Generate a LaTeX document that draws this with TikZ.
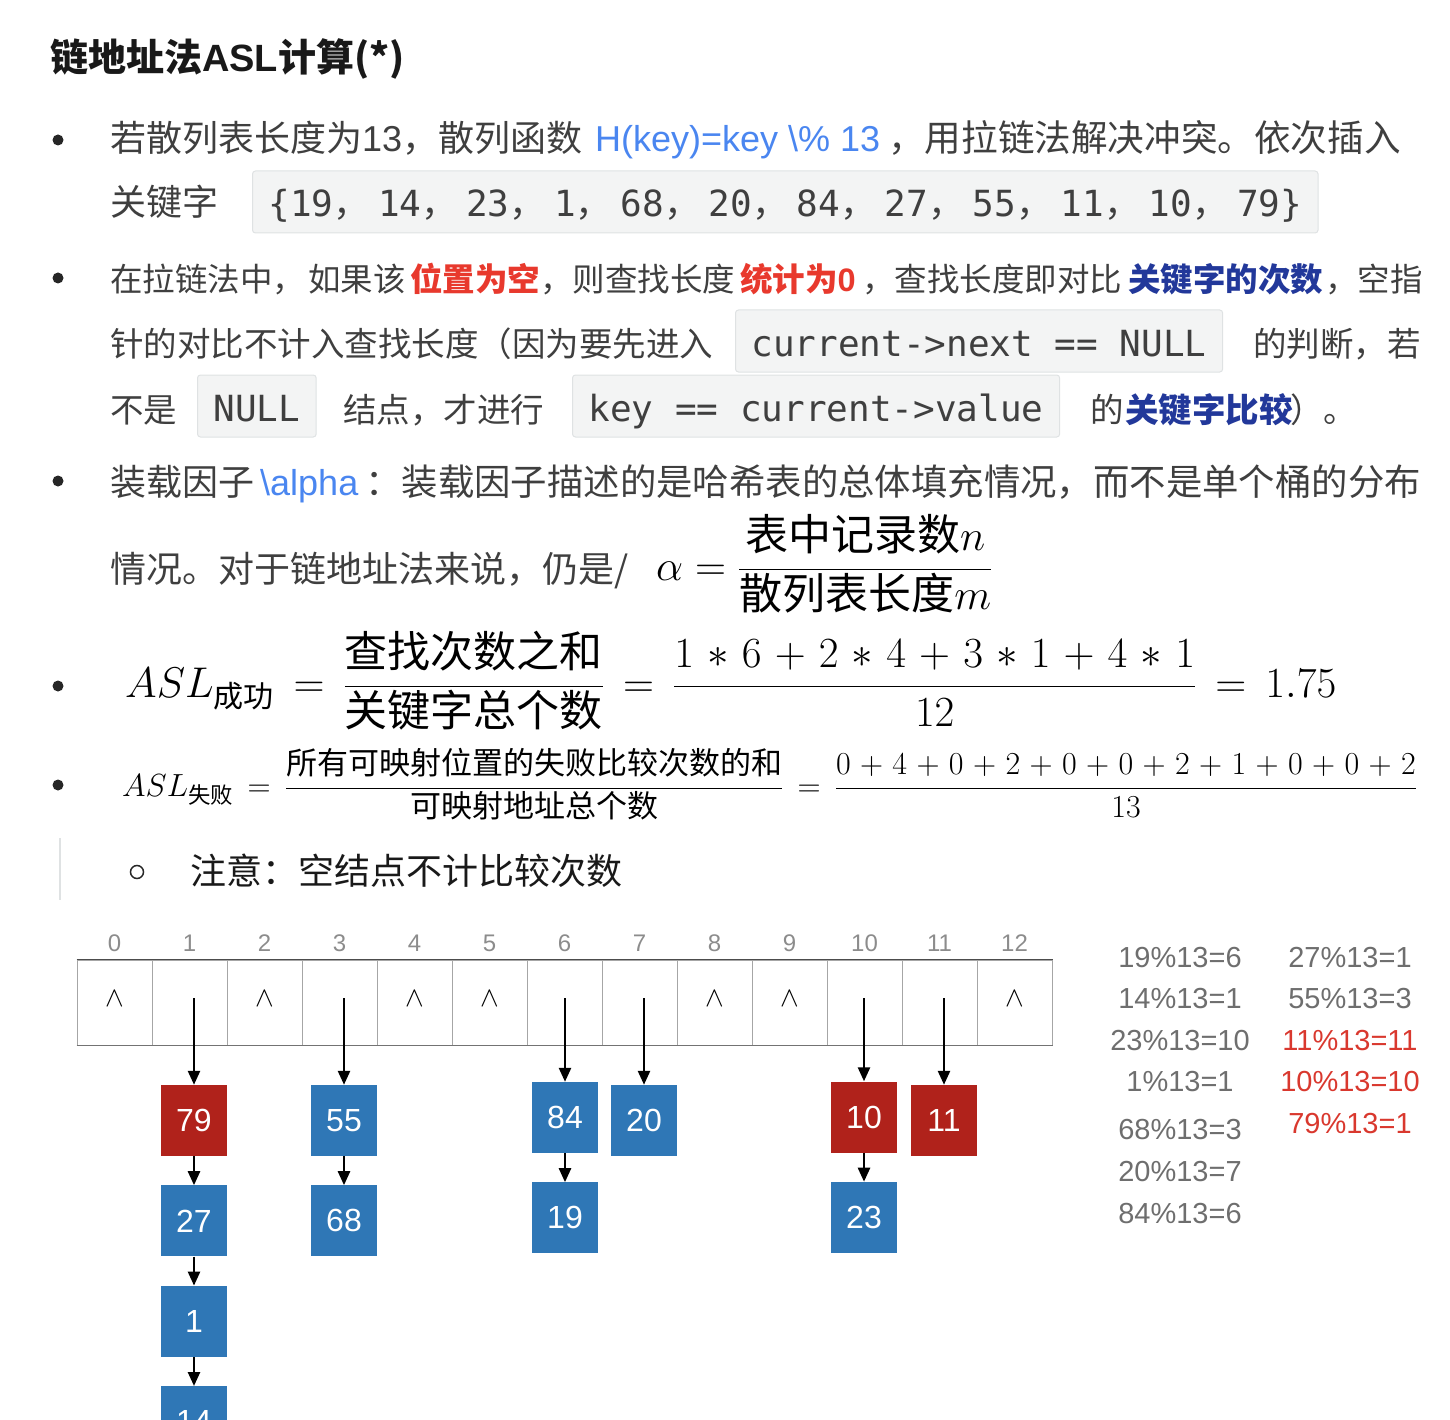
\RequirePackage{fix-cm}
\documentclass[tikz,border=0pt]{standalone}
\usepackage{amsmath}
\usepackage[no-math]{fontspec}
\setmainfont{Noto Sans CJK SC}
\setmonofont{DejaVu Sans Mono}
\newfontfamily\latin{Liberation Sans}
\usetikzlibrary{positioning,arrows.meta}

\definecolor{body}{HTML}{3F3F3F}
\definecolor{link}{HTML}{4A86F0}
\definecolor{hired}{HTML}{E8392D}
\definecolor{hiblue}{HTML}{22389A}
\definecolor{codebg}{HTML}{F3F4F4}
\definecolor{codeln}{HTML}{DFE2E3}
\definecolor{cellred}{HTML}{B0221B}
\definecolor{cellblue}{HTML}{2F77B6}
\definecolor{modgray}{HTML}{6E6E6E}
\definecolor{modred}{HTML}{D9382E}

\newcommand\fs[1]{\fontsize{#1}{#1}\selectfont}
\newcommand\zc{\makebox[44.7pt][l]{\rmfamily ，}}

\begin{document}
\begin{tikzpicture}[x=1pt,y=-1pt,
    txt/.style={anchor=base west,inner sep=0pt,text=body,font=\fs{36}},
    bul/.style={circle,fill=black!85,inner sep=0pt,minimum size=11pt},
    codebox/.style={anchor=west,fill=codebg,draw=codeln,line width=1pt,rounded corners=3pt,
      text=body,font=\ttfamily\fs{36},inner xsep=16pt,inner ysep=0pt,
      minimum height=62pt,text height=30pt,text depth=0pt},
    formula/.style={anchor=base west,inner sep=0pt,text=black},
    cell/.style={draw=black!35,line width=1pt,minimum width=75pt,minimum height=85pt,inner sep=0pt},
    idx/.style={font=\latin\fs{24},text=black!45,inner sep=0pt},
    blk/.style={minimum width=66pt,minimum height=71pt,inner sep=0pt,text=white,font=\latin\fs{32}},
    ptr/.style={-{Triangle[length=14pt,width=12pt]},line width=2.5pt,black},
    mod/.style={font=\latin\fs{29},text=modgray,inner sep=0pt}]
  \useasboundingbox (0,0) rectangle (1450,1420);
  \clip (0,0) rectangle (1450,1420);

  \node[txt,font=\fs{38}\bfseries,text=black!90] (title) at (50,72) {链地址法{\latin\bfseries ASL}计算(*)};

  \node[bul] (d1) at (58,140) {};
  \node[txt] (l1a) at (110,152) {若散列表长度为{\latin 13}，散列函数};
  \node[txt,text=link,font=\latin\fs{36}] (l1b) at (595,152) {H(key)=key \textbackslash\% 13};
  \node[txt,font=\fs{36.6}] (l1c) at (888,152) {，用拉链法解决冲突。依次插入};
  \node[txt] (l1d) at (110,216) {关键字};
  \node[codebox] (cb1) at (252,202) {\{19\zc14\zc23\zc1\zc68\zc20\zc84\zc27\zc55\zc11\zc10\zc79\}};

  \node[bul] (d2) at (58,278) {};
  \node[txt,font=\fs{32.5}] (l2a) at (110,292) {在拉链法中，};
  \node[txt,font=\fs{32.5}] (l2b) at (308,292) {如果该};
  \node[txt,font=\fs{32.5}\bfseries,text=hired] (l2c) at (410,292) {位置为空};
  \node[txt,font=\fs{32.5}] (l2d) at (540,292) {，则查找长度};
  \node[txt,font=\fs{32.5}\bfseries,text=hired] (l2e) at (740,292) {统计为{\latin\bfseries 0}};
  \node[txt,font=\fs{32.5}] (l2f) at (862,292) {，查找长度即对比};
  \node[txt,font=\fs{32.5}\bfseries,text=hiblue] (l2g) at (1128,292) {关键字的次数};
  \node[txt,font=\fs{32.5}] (l2h) at (1325,292) {，空指};
  \node[txt,font=\fs{33.5}] (l2i) at (110,356) {针的对比不计入查找长度（因为要先进入};
  \node[codebox] (cb2) at (735,341) {current->next == NULL};
  \node[txt,font=\fs{33.5}] (l2j) at (1253,356) {的判断，若};
  \node[txt,font=\fs{33.5}] (l2k) at (110,422) {不是};
  \node[codebox] (cb3) at (197,406) {NULL};
  \node[txt,font=\fs{33.5}] (l2l) at (343,422) {结点，才进行};
  \node[codebox] (cb4) at (572,406) {key == current->value};
  \node[txt,font=\fs{33.5}] (l2m) at (1090,422) {的};
  \node[txt,font=\fs{33.5}\bfseries,text=hiblue] (l2n) at (1125,422) {关键字比较};
  \node[txt,font=\fs{33.5}] (l2o) at (1290,422) {）。};

  \node[bul] (d3) at (58,481) {};
  \node[txt] (l3a) at (110,495) {装载因子};
  \node[txt,text=link,font=\latin\fs{36}] (l3b) at (260,495) {\textbackslash alpha};
  \node[txt,font=\fs{36.4}] (l3c) at (365,495) {：装载因子描述的是哈希表的总体填充情况，而不是单个桶的分布};
  \node[txt] (l3d) at (110,582) {情况。对于链地址法来说，仍是/};
  \node[formula,font=\fs{43}] (m1) at (656,580)
    {$\alpha = \dfrac{\text{表中记录数}n}{\text{散列表长度}m}$};

  \node[bul] (d4) at (58,686) {};
  \node[formula,font=\fs{43}] (m2) at (125,697)
    {\thickmuskip=8mu \medmuskip=5.5mu $ASL_{\text{成功}} = \dfrac{\text{查找次数之和}}{\text{关键字总个数}}
      = \dfrac{1\ast6+2\ast4+3\ast1+4\ast1}{12} = 1.75$};

  \node[bul] (d5) at (58,785) {};
  \node[formula,font=\fs{32}] (m3) at (122,796)
    {\thickmuskip=8mu \medmuskip=5.3mu $ASL_{\text{失败}} = \dfrac{\text{\fs{31}所有可映射位置的失败比较次数的和}}{\text{\fs{31}可映射地址总个数}}
      = \dfrac{0+4+0+2+0+0+2+1+0+0+2}{13}$};

  \draw[codeln,line width=2pt] (60,838) -- (60,900);
  \node[circle,draw=black!85,line width=1.5pt,minimum size=13pt,inner sep=0pt] (d6) at (137,872) {};
  \node[txt,text=black!90] (l6) at (190,884) {注意：空结点不计比较次数};

  \foreach \i in {0,...,12}{
    \node[cell] (c\i) at ({114.5+75*\i},1002.5) {};
    \node[idx,above=8pt of c\i] (n\i) {\i};
  }
  \draw[black!70,line width=1.5pt] (c0.north west) -- (c12.north east);
  \draw[black!55,line width=1pt] (c0.south west) -- (c12.south east);
  \foreach \i in {0,2,4,5,8,9,12}
    \node[font=\fs{28},inner sep=0pt] (nil\i) at ([yshift=4pt]c\i.center) {$\wedge$};

  \node[blk,fill=cellred] (k79) at (194,1120.5) {79};
  \node[blk,fill=cellblue,below=29pt of k79] (k27) {27};
  \node[blk,fill=cellblue,below=29pt of k27] (k1) {1};
  \node[blk,fill=cellblue,below=29pt of k1] (k14) {14};
  \node[blk,fill=cellblue] (k55) at (344,1120.5) {55};
  \node[blk,fill=cellblue,below=29pt of k55] (k68) {68};
  \node[blk,fill=cellblue] (k84) at (565,1117.5) {84};
  \node[blk,fill=cellblue,below=29pt of k84] (k19) {19};
  \node[blk,fill=cellblue] (k20) at (644,1120.5) {20};
  \node[blk,fill=cellred] (k10) at (864,1117) {10};
  \node[blk,fill=cellblue,below=29pt of k10] (k23) {23};
  \node[blk,fill=cellred] (k11) at (944,1120.5) {11};

  \coordinate (p1) at (194,998);
  \coordinate (p3) at (344,998);
  \coordinate (p6) at (565,998);
  \coordinate (p7) at (644,998);
  \coordinate (p10) at (864,998);
  \coordinate (p11) at (944,998);
  \foreach \a/\b in {p1/k79,p3/k55,p6/k84,p7/k20,p10/k10,p11/k11,
                     k79/k27,k27/k1,k1/k14,k55/k68,k84/k19,k10/k23}
    \draw[ptr] (\a) -- (\b);

  \foreach \t/\y [count=\n] in {19\%13=6/958,14\%13=1/999,23\%13=10/1041,1\%13=1/1082,
                                68\%13=3/1130,20\%13=7/1172,84\%13=6/1214}
    \node[mod] (r\n) at (1180,\y) {\t};
  \node[mod] (s1) at (1350,958) {27\%13=1};
  \node[mod] (s2) at (1350,999) {55\%13=3};
  \foreach \t/\y [count=\n from 3] in {11\%13=11/1041,10\%13=10/1082,79\%13=1/1124}
    \node[mod,text=modred] (s\n) at (1350,\y) {\t};
\end{tikzpicture}
\end{document}
